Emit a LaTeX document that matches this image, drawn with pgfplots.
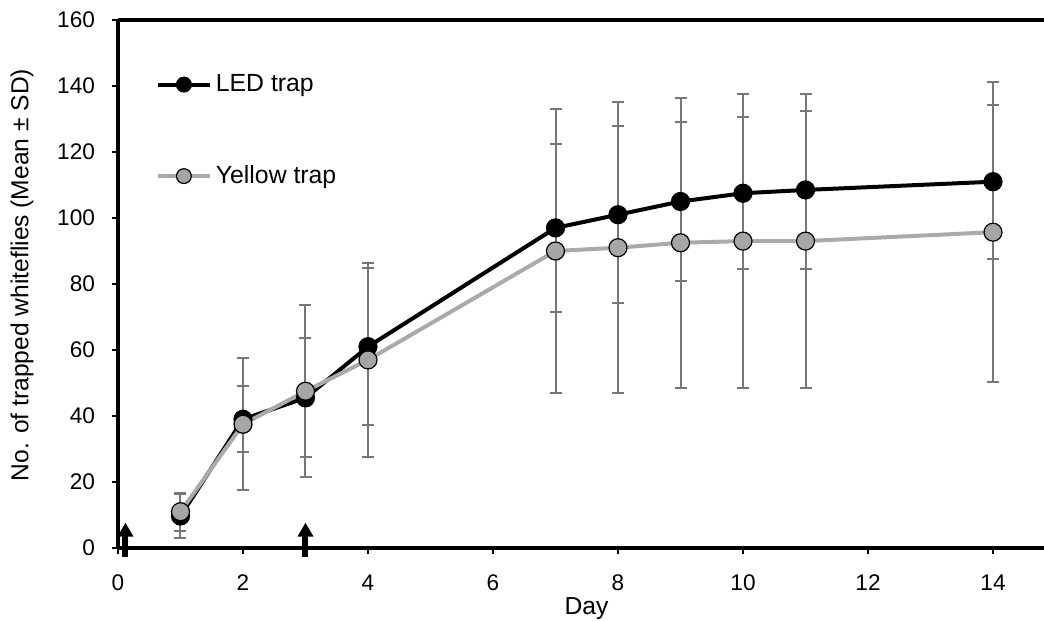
\documentclass[border=0pt]{standalone}
\usepackage{pgfplots}
\pgfplotsset{compat=1.18}
\usepackage{pgfplotstable}
\usepackage{fontspec}
\setmainfont{Liberation Sans}
\usetikzlibrary{arrows.meta}
\definecolor{errc}{HTML}{777777}
\definecolor{yline}{HTML}{AAAAAA}
\definecolor{yfill}{HTML}{A6A6A6}
\pgfplotstableread{
x y e
1 9.7 6.8
2 39 10
3 45.5 18
4 61 23.8
7 97 25.4
8 101 26.8
9 105 24.2
10 107.5 23
11 108.5 24
14 111 23.3
}\led
\pgfplotstableread{
x y e
1 11 5.7
2 37.5 20
3 47.5 26
4 57 29.5
7 90 43
8 91 44
9 92.5 44
10 93 44.5
11 93 44.5
14 95.7 45.5
}\yel
\begin{document}
\begin{tikzpicture}
\begin{axis}[
  name=ax,
  scale only axis,
  width=463pt, height=264pt,
  xmin=0, xmax=14.816, ymin=0, ymax=160,
  xtick={0,2,...,14}, ytick={0,20,...,160},
  axis x line*=bottom, axis y line*=left,
  axis line style={line width=1.6pt, -},
  tick align=outside, tick style={line width=0.8pt, black},
  major tick length=3pt,
  /pgf/number format/assume math mode=true,
  ticklabel style={font=\fontsize{11.3}{13}\selectfont},
  xticklabel style={yshift=-7pt},
  yticklabel style={xshift=-5pt},
  label style={font=\fontsize{12.3}{14}\selectfont},
  xlabel={Day},
  ylabel={No. of trapped whiteflies (Mean ± SD)},
  xlabel style={at={(axis description cs:0.506,-0.114)}, anchor=center},
  ylabel style={at={(axis description cs:-0.1037,0.517)}, anchor=center, rotate=0},
  clip=false,
  legend cell align=left,
  legend style={draw=none, fill=none, at={(axis description cs:0.0405,0.905)}, anchor=north west,
    row sep=31.5pt, font=\fontsize{12.4}{14}\selectfont, inner sep=0pt},
  legend image code/.code={
    \draw[mark repeat=2,mark phase=2,mark size=3.7pt] plot coordinates {(0pt,0pt)(13pt,0pt)(26pt,0pt)};
  },
]
\draw[line width=1.6pt] (rel axis cs:0,1) -- (rel axis cs:1,1);
% error bars
\addplot[forget plot, only marks, mark=none,
  error bars/.cd, y dir=both, y explicit,
  error bar style={draw=errc, line width=1pt},
  error mark options={draw=errc, line width=1pt, mark size=3pt, rotate=90}]
  table[x=x, y=y, y error=e] {\led};
\addplot[forget plot, only marks, mark=none,
  error bars/.cd, y dir=both, y explicit,
  error bar style={draw=errc, line width=1pt},
  error mark options={draw=errc, line width=1pt, mark size=3pt, rotate=90}]
  table[x=x, y=y, y error=e] {\yel};
\addplot[black, line width=2pt, mark=*, mark size=4.5pt, mark options={fill=black, line width=0.6pt}]
  table[x=x, y=y] {\led};
\addlegendentry{LED trap}
\addplot[yline, line width=2pt, mark=*, mark size=4.5pt, mark options={fill=yfill, draw=black, line width=0.6pt}]
  table[x=x, y=y] {\yel};
\addlegendentry{Yellow trap}
\draw[line width=3pt, -{Triangle[length=7pt,width=7.5pt]}] (axis cs:0.12,-2.6) -- (axis cs:0.12,7.7);
\draw[line width=3pt, -{Triangle[length=7pt,width=7.5pt]}] (axis cs:3,-2.6) -- (axis cs:3,7.7);
\end{axis}
\pgfresetboundingbox
\path ([xshift=-59pt,yshift=-36.5pt]ax.south west) rectangle ([yshift=10pt]ax.north east);
\end{tikzpicture}
\end{document}
